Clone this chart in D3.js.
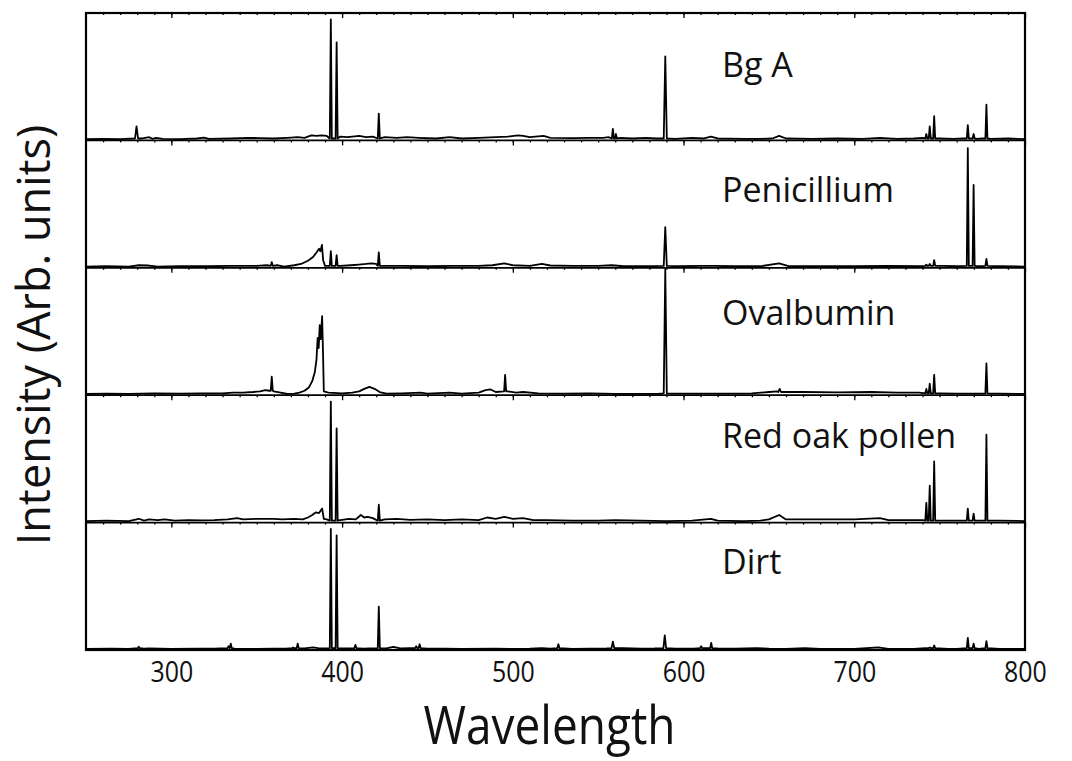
<!DOCTYPE html>
<html><head><meta charset="utf-8">
<script src="https://cdn.jsdelivr.net/npm/d3@7"></script>
<style>body{margin:0;background:#fff}svg{display:block}</style>
</head><body><svg id="chart" width="1072" height="761"></svg>
<script>
// ---------------- data (intensity relative to panel height, 0..1) ----------------
const panelNames = ["Bg A", "Penicillium", "Ovalbumin", "Red oak pollen", "Dirt"];
const xTickValues = [300, 400, 500, 600, 700, 800];

// continuum / noise samples: [wavelength, intensity]
const bgABase = [[250,0.01],[260,0.012],[270,0.01],[283,0.015],[287,0.025],[289,0.012],[291,0.02],[295,0.012],[305,0.01],[315,0.015],[319,0.022],[322,0.012],[335,0.015],[345,0.02],[352,0.018],[360,0.015],[368,0.02],[374,0.025],[378,0.02],[382,0.04],[385,0.035],[388,0.04],[391,0.035],[399,0.03],[403,0.025],[406,0.03],[410,0.035],[414,0.025],[418,0.03],[425,0.025],[432,0.02],[438,0.025],[445,0.02],[455,0.015],[463,0.025],[470,0.015],[480,0.02],[490,0.025],[497,0.03],[503,0.04],[506,0.035],[510,0.025],[518,0.035],[522,0.02],[535,0.018],[545,0.02],[553,0.02],[556,0.025],[563,0.02],[570,0.015],[578,0.02],[584,0.015],[595,0.012],[605,0.02],[612,0.015],[616,0.03],[620,0.015],[635,0.012],[645,0.012],[652,0.015],[656,0.035],[660,0.015],[675,0.012],[690,0.015],[705,0.012],[715,0.02],[725,0.012],[735,0.015],[740,0.02],[750,0.015],[758,0.012],[764,0.015],[772,0.012],[775,0.015],[780,0.012],[790,0.015],[800,0.01]];
// emission lines: [wavelength, peak, halfWidth(nm, optional), footLevel(optional)]
const bgALines = [[279.6,0.11,0.9],[393.4,0.95],[396.8,0.77],[421.5,0.21],[558.6,0.09],[560.4,0.05],[589.3,0.66,0.9],[742.2,0.05],[744.2,0.11],[746.8,0.19],[766.5,0.12],[769.9,0.05],[777.4,0.28]];

const penicilliumBase = [[250,0.01],[262,0.012],[275,0.01],[281,0.02],[286,0.018],[292,0.01],[305,0.012],[320,0.012],[335,0.015],[350,0.015],[356,0.02],[362,0.02],[366,0.01],[372,0.02],[376,0.03],[380,0.055],[383,0.085],[385,0.12],[386.5,0.15],[387.3,0.13],[388.2,0.18],[388.9,0.06],[390,0.015],[399,0.015],[405,0.02],[410,0.025],[414,0.03],[417,0.035],[420,0.03],[425,0.015],[435,0.015],[450,0.012],[465,0.015],[480,0.015],[488,0.02],[495,0.035],[500,0.02],[510,0.015],[517,0.03],[522,0.018],[535,0.015],[550,0.015],[558,0.02],[565,0.012],[580,0.012],[598,0.012],[610,0.015],[618,0.015],[630,0.012],[645,0.012],[656,0.035],[662,0.012],[680,0.012],[700,0.012],[720,0.015],[738,0.012],[752,0.015],[760,0.012],[773,0.012],[785,0.012],[800,0.01]];
const penicilliumLines = [[358.8,0.045],[393.4,0.13],[396.8,0.1],[421.5,0.12],[589.3,0.32,0.9],[742.2,0.025],[744.2,0.03],[746.8,0.06],[766.5,0.94],[769.9,0.65],[777.4,0.07]];

const ovalbuminBase = [[250,0.01],[262,0.012],[275,0.01],[290,0.015],[305,0.012],[318,0.015],[330,0.015],[336,0.02],[342,0.02],[348,0.025],[352,0.03],[355,0.04],[357.5,0.035],[360,0.03],[364,0.02],[368,0.01],[372,0.012],[375,0.02],[378,0.035],[380.5,0.06],[382.5,0.11],[384,0.18],[385,0.28],[385.7,0.45],[386.3,0.37],[386.9,0.55],[387.5,0.44],[388.3,0.62],[388.8,0.35],[389.3,0.03],[392,0.02],[400,0.015],[406,0.02],[410,0.03],[413,0.05],[416,0.065],[419,0.05],[422,0.025],[426,0.012],[435,0.015],[446,0.02],[450,0.012],[463,0.02],[470,0.012],[480,0.02],[484,0.04],[487,0.045],[490,0.025],[497,0.03],[502,0.02],[506,0.025],[515,0.015],[530,0.012],[545,0.015],[560,0.01],[575,0.01],[585,0.01],[595,0.012],[610,0.012],[625,0.012],[640,0.015],[650,0.025],[655,0.03],[658,0.025],[670,0.025],[690,0.022],[710,0.025],[725,0.02],[738,0.02],[750,0.015],[760,0.012],[772,0.012],[785,0.012],[800,0.01]];
const ovalbuminLines = [[358.8,0.145,0.6,0.035],[495.5,0.16,0.6,0.03],[589.3,0.99,0.9],[656.3,0.05,0.8,0.025],[742.2,0.05],[744.2,0.09],[746.8,0.16],[777.4,0.25]];

const redOakBase = [[250,0.012],[262,0.015],[275,0.012],[281,0.03],[284,0.015],[287,0.025],[292,0.02],[296,0.025],[302,0.015],[310,0.02],[318,0.018],[325,0.02],[333,0.025],[338.6,0.035],[342,0.025],[350,0.03],[356,0.03],[360,0.03],[365,0.025],[372,0.03],[377,0.025],[380,0.04],[382.5,0.06],[384.5,0.08],[386.5,0.075],[388.3,0.11],[389.3,0.03],[391,0.025],[399,0.02],[404,0.03],[408,0.025],[411,0.06],[413,0.04],[415,0.045],[418,0.035],[425,0.025],[432,0.03],[440,0.022],[450,0.025],[460,0.02],[470,0.025],[480,0.02],[485,0.04],[490,0.03],[495,0.045],[500,0.03],[506,0.035],[512,0.02],[520,0.02],[535,0.015],[550,0.015],[560,0.02],[575,0.015],[590,0.012],[605,0.015],[616,0.03],[620,0.015],[635,0.012],[645,0.015],[650,0.025],[656,0.06],[660,0.025],[670,0.025],[685,0.025],[700,0.025],[715,0.035],[720,0.02],[730,0.02],[740,0.02],[752,0.015],[760,0.015],[773,0.015],[785,0.015],[800,0.012]];
const redOakLines = [[393.4,0.95],[396.8,0.74],[421.5,0.14],[742.2,0.155],[744.2,0.29],[746.8,0.48],[766.5,0.11],[769.9,0.07],[777.4,0.69]];

const dirtBase = [[250,0.008],[265,0.01],[275,0.008],[284,0.01],[287,0.012],[300,0.008],[315,0.01],[325,0.01],[337,0.01],[350,0.008],[360,0.01],[368,0.012],[378,0.012],[383,0.02],[386,0.015],[390,0.012],[400,0.012],[412,0.01],[426,0.012],[430,0.025],[434,0.012],[440,0.015],[450,0.01],[460,0.01],[470,0.008],[490,0.01],[500,0.008],[510,0.01],[517,0.015],[522,0.01],[535,0.008],[545,0.01],[555,0.012],[565,0.015],[575,0.01],[583,0.012],[595,0.01],[606,0.01],[620,0.012],[630,0.01],[643,0.015],[650,0.01],[660,0.008],[671,0.015],[680,0.008],[700,0.008],[714,0.02],[720,0.008],[735,0.008],[745,0.01],[755,0.008],[760,0.008],[773,0.008],[785,0.008],[800,0.008]];
const dirtLines = [[280.9,0.025],[333.5,0.03],[334.8,0.05],[371.2,0.018],[374,0.05],[393.4,0.95],[396.8,0.9],[407.8,0.04],[421.5,0.34],[443.4,0.03],[445.4,0.045],[526.7,0.045],[558.6,0.066,0.8],[589.0,0.115,0.8],[610.3,0.03],[616.2,0.055],[742.2,0.012],[744.2,0.02],[746.8,0.035],[766.5,0.095],[769.9,0.05],[777.4,0.07]];

const spectra = [
  {base: bgABase, lines: bgALines},
  {base: penicilliumBase, lines: penicilliumLines},
  {base: ovalbuminBase, lines: ovalbuminLines},
  {base: redOakBase, lines: redOakLines},
  {base: dirtBase, lines: dirtLines}
];

// ---------------- layout ----------------
const svg = d3.select("#chart");
const plotL = 86, plotR = 1025, plotT = 13, plotB = 650;
const panelH = (plotB - plotT) / panelNames.length;
const labelOffsets = [64, 62, 57, 53, 51];
const x = d3.scaleLinear().domain([250, 800]).range([plotL, plotR]);
const FONT = "'Open Sans', 'Noto Sans', sans-serif";

function buildPoints(spec) {
  const pts = [];
  const spans = spec.lines.map(l => [l[0] - (l[2] || 0.6), l[0] + (l[2] || 0.6)]);
  spec.base.forEach(p => {
    if (!spans.some(s => p[0] >= s[0] - 0.3 && p[0] <= s[1] + 0.3)) pts.push(p);
  });
  spec.lines.forEach(l => {
    const hw = l[2] || 0.6, foot = l[3] != null ? l[3] : 0.015;
    pts.push([l[0] - hw, foot], [l[0], l[1]], [l[0] + hw, foot]);
  });
  pts.sort((a, b) => a[0] - b[0]);
  return pts;
}

const g = svg.append("g");
panelNames.forEach((name, i) => {
  const pTop = plotT + i * panelH, pBot = pTop + panelH;
  const y = d3.scaleLinear().domain([0, 1]).range([pBot, pTop]);

  const major = d3.axisTop(x).tickValues(xTickValues).tickSize(-5).tickFormat("");
  const minor = d3.axisTop(x).tickValues(d3.range(260, 800, 10)).tickSize(-2).tickFormat("");
  [major, minor].forEach(axf => {
    const a = g.append("g").attr("transform", `translate(0,${pTop})`).call(axf);
    a.select(".domain").remove();
    a.selectAll("line").attr("stroke", "#000").attr("stroke-width", 1.3);
  });

  const line = d3.line().x(d => x(d[0])).y(d => y(d[1]));
  g.append("path")
    .datum(buildPoints(spectra[i]))
    .attr("d", line)
    .attr("fill", "none")
    .attr("stroke", "#000")
    .attr("stroke-width", 1.8)
    .attr("stroke-linejoin", "round");

  if (i > 0) {
    g.append("line").attr("x1", plotL).attr("x2", plotR).attr("y1", pTop).attr("y2", pTop)
      .attr("stroke", "#000").attr("stroke-width", 1.8);
  }

  g.append("text")
    .attr("x", 722).attr("y", pTop + labelOffsets[i])
    .attr("font-family", FONT).attr("font-size", 34)
    .attr("fill", "#111")
    .text(name);
});

g.append("rect").attr("x", plotL).attr("y", plotT).attr("width", plotR - plotL).attr("height", plotB - plotT)
  .attr("fill", "none").attr("stroke", "#000").attr("stroke-width", 2.2);

const xAxis = d3.axisBottom(x).tickValues(xTickValues).tickSize(0).tickPadding(11);
const axG = g.append("g").attr("transform", `translate(0,${plotB})`).call(xAxis);
axG.select(".domain").remove();
axG.selectAll("text").attr("font-family", FONT).attr("font-size", 29).attr("fill", "#111")
  .attr("transform", "scale(0.86,1)");

g.append("text")
  .attr("transform", `translate(${(plotL + plotR) / 2 - 6},744) scale(0.92,1.05)`)
  .attr("text-anchor", "middle")
  .attr("font-family", FONT).attr("font-size", 50).attr("fill", "#111")
  .text("Wavelength");

g.append("text")
  .attr("transform", "translate(50,335) rotate(-90)")
  .attr("text-anchor", "middle")
  .attr("font-family", FONT).attr("font-size", 45).attr("fill", "#111")
  .text("Intensity (Arb. units)");
</script>
</body></html>
